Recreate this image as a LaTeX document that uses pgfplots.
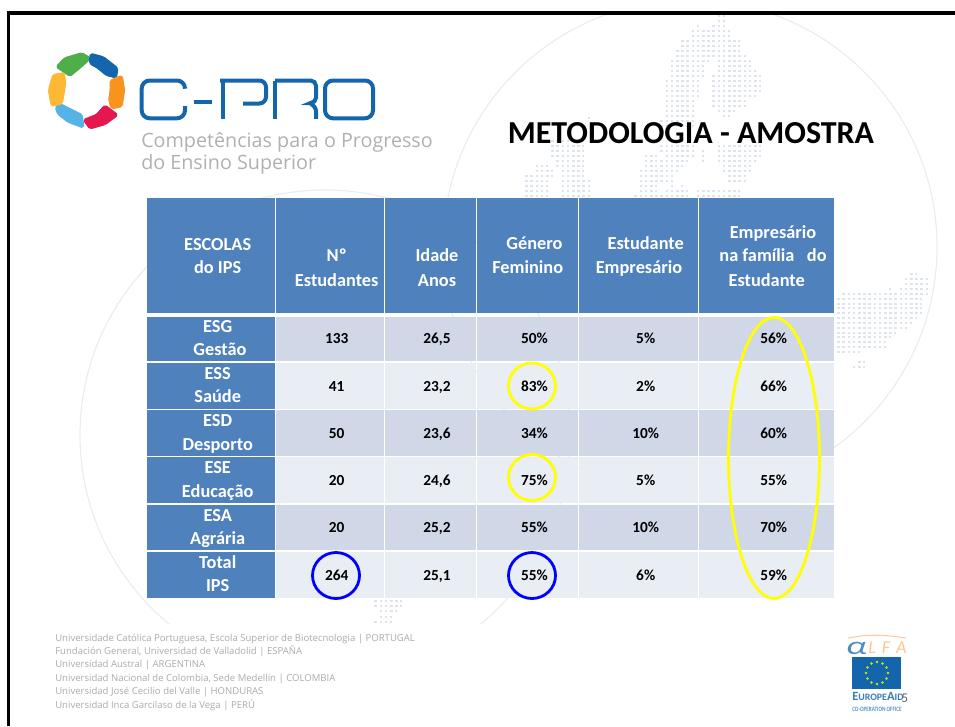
\documentclass[border=0pt]{standalone}
\usepackage{fontspec}
\usepackage{graphicx}
\usepackage{pgfplots}
\usepackage{pgfplotstable}
\pgfplotsset{compat=1.18}
\setmainfont{Carlito}
\newfontfamily\footfont{Open Sans}
\definecolor{hdr}{HTML}{4F81BD}
\definecolor{rowa}{HTML}{D0D8E8}
\definecolor{rowb}{HTML}{E9EDF4}
\definecolor{arc}{HTML}{E8EDF3}
\definecolor{dot}{HTML}{DDE4ED}
\definecolor{cpro}{HTML}{1466AC}
\definecolor{greytxt}{HTML}{B0B0B0}
\definecolor{foot}{HTML}{ABABAB}
\definecolor{ring}{HTML}{FFFF00}
\definecolor{lgreen}{HTML}{4DAE4A}
\definecolor{lorange}{HTML}{F7941D}
\definecolor{lred}{HTML}{E5174F}
\definecolor{lsky}{HTML}{55B3E6}
\definecolor{lyellow}{HTML}{FDB933}
\newcommand{\cell}[5]{\addplot[fill=#5,draw=none] coordinates {(#1,#3)(#2,#3)(#2,#4)(#1,#4)} -- cycle;}
\newcommand{\blob}[2]{\addplot[fill=#1,draw=#1,line width=1.7pt,line join=round,rounded corners=1.2pt] coordinates {#2} -- cycle;}

% row x positions of the table
\pgfplotstableread{
x y lab
336.7 338 133
336.7 386 41
336.7 433 50
336.7 480 20
336.7 527 20
336.7 575 264
437 338 26,5
437 386 23,2
437 433 23,6
437 480 24,6
437 527 25,2
437 575 25,1
}\tblplain
\pgfplotstableread{
x y lab
534.5 338 50
534.5 386 83
534.5 433 34
534.5 480 75
534.5 527 55
534.5 575 55
645.7 338 5
645.7 386 2
645.7 433 10
645.7 480 5
645.7 527 10
645.7 575 6
773.7 338 56
773.7 386 66
773.7 433 60
773.7 480 55
773.7 527 70
773.7 575 59
}\tblpct

\begin{document}
\begin{tikzpicture}
\begin{axis}[
  scale only axis, width=716.25pt, height=544.5pt,
  xmin=0, xmax=955, ymin=0, ymax=726, y dir=reverse,
  hide axis, clip=true,
]
% background arcs
\draw[arc,line width=0.9pt] (axis cs:690,247) ellipse [x radius=247, y radius=247];
\draw[arc,line width=0.9pt] (axis cs:325,435) ellipse [x radius=245, y radius=245];

% background dot map, runs along rows, k = column on the 5.2px grid
\addplot[dot,line width=1.9pt,dash pattern=on 1.9pt off 2pt,empty line=jump]
  table[x expr=\thisrow{k}*5.2,y=y] {
k y
138 16
139.4 16

138 21
139.4 21

134 26
134.4 26

137 26
139.4 26

133 31
140.4 31

133 36
140.4 36

131 41
142.4 41

131 46
142.4 46

130 51
142.4 51

130 56
143.4 56

129 61
136.4 61

138 61
144.4 61

129 66
135.4 66

138 66
144.4 66

129 71
135.4 71

138 71
145.4 71

129 76
135.4 76

137 76
146.4 76

128 81
134.4 81

137 81
146.4 81

128 86
134.4 86

137 86
146.4 86

128 91
134.4 91

137 91
146.4 91

128 96
134.4 96

137 96
145.4 96

128 101
133.4 101

137 101
143.4 101

128 106
133.4 106

137 106
143.4 106

128 111
133.4 111

138 111
141.4 111

128 116
133.4 116

139 116
140.4 116

113 118
113.4 118

127 121
133.4 121

127 126
133.4 126

106 141
112.4 141

106 146
112.4 146

127 146
133.4 146

138 146
146.4 146

106 151
112.4 151

127 151
133.4 151

135 151
135.4 151

138 151
146.4 151

106 156
112.4 156

124 156
126.4 156

128 156
133.4 156

135 156
135.4 156

138 156
146.4 156

107 161
112.4 161

124 161
126.4 161

127 161
132.4 161

135 161
135.4 161

138 161
145.4 161

103 166
105.4 166

107 166
112.4 166

124 166
126.4 166

127 166
131.4 166

139 166
144.4 166

103 171
106.4 171

108 171
112.4 171

123 171
130.4 171

139 171
144.4 171

101 176
106.4 176

108 176
112.4 176

123 176
129.4 176

140 176
143.4 176

101 181
105.4 181

108 181
113.4 181

123 181
129.4 181

140 181
143.4 181

101 186
105.4 186

108 186
113.4 186

123 186
126.4 186

129 186
129.4 186

131 186
131.4 186

101 191
105.4 191

108 191
113.4 191

123 191
126.4 191

128 191
132.4 191

134 191
142.4 191

101 196
105.4 196

108 196
113.4 196

122 196
132.4 196

134 196
142.4 196

175 274
176.4 274

174 279
178.4 279

174 284
178.4 284

171 289
171.4 289

173 289
178.4 289

162 294
178.4 294

161 299
177.4 299

161 304
177.4 304

161 308
177.4 308

161 313
177.4 313

161 318
176.4 318

161 323
175.4 323

161 328
174.4 328

161 333
172.4 333

161 337
171.4 337

161 342
170.4 342

161 347
170.4 347

161 352
165.4 352

165 362
166.4 362

164 367
166.4 367

72 601
77.4 601

72 606
77.4 606

73 611
76.4 611

73 617
75.4 617

72 622
75.4 622
};

% slide mask outside the frame and under the footer
\cell{0}{955}{0}{12}{white}
\cell{0}{7}{0}{726}{white}
\cell{0}{955}{624}{726}{white}

% frame
\addplot[black,line width=2.4pt,line join=miter] coordinates {(8.5,726)(8.5,13)(955,13)};

% logo ring
\blob{lgreen}{(56.7,66.7)(65,58.3)(81.7,53.3)(90,58.3)(81.7,66)(70,75.7)}
\blob{cpro}{(90.7,54)(103.3,57.3)(117.3,68.3)(116,77.3)(106.7,75)(97.3,67.3)(90,63.3)}
\blob{lorange}{(110.7,80.7)(121.7,76)(124,90)(121.7,106)(111.7,108.3)(109.3,100)(110.7,90)}
\blob{lred}{(105,105.7)(117.3,115)(105,124)(90,128.3)(84,120)(96.7,115)}
\blob{lsky}{(58.3,103.3)(68.3,108.3)(81.7,115)(83.3,127.3)(68.3,121.7)(58.3,114)(56,108.3)}
\blob{lyellow}{(53.3,75)(64,73.3)(65,83.3)(63.3,95)(61.7,103.3)(51.7,105.7)(49,90)}

% C-PRO lettering
\addplot[cpro,line width=3pt,rounded corners=6pt] coordinates {(185,87)(185,80.5)(141.7,80.5)(141.7,118.3)(185,118.3)(185,106)};
\addplot[cpro,line width=3pt] coordinates {(193.5,102)(212,102)};
\addplot[cpro,line width=3pt] coordinates {(222.5,80.5)(222.5,118.8)};
\addplot[cpro,line width=3pt,rounded corners=5pt] coordinates {(220,80.5)(266,80.5)(266,103.5)(243,103.5)};
\addplot[cpro,line width=3pt] coordinates {(275,80.5)(275,118.8)};
\addplot[cpro,line width=3pt,rounded corners=4pt] coordinates {(275,80.5)(316,80.5)(316,103)(308,103)(316,106)(316,118.8)};
\addplot[cpro,line width=3pt,rounded corners=6pt] coordinates {(325,80.5)(373,80.5)(373,118.3)(325,118.3)} -- cycle;

\node[anchor=base west,inner sep=0pt,greytxt,font=\footfont\fontsize{14.8}{18}\selectfont] at (axis cs:141,147) {Competências para o Progresso};
\node[anchor=base west,inner sep=0pt,greytxt,font=\footfont\fontsize{14.8}{18}\selectfont] at (axis cs:141,169) {do Ensino Superior};

% title
\node[inner sep=0pt,font=\bfseries\fontsize{24}{28}\selectfont] at (axis cs:691,133) {METODOLOGIA - AMOSTRA};

% table cells, header then rows
\cell{147.3}{274.5}{198}{312.5}{hdr}
\cell{275.7}{383.7}{198}{312.5}{hdr}
\cell{384.9}{476}{198}{312.5}{hdr}
\cell{477.2}{577.5}{198}{312.5}{hdr}
\cell{578.7}{698}{198}{312.5}{hdr}
\cell{699.2}{834}{198}{312.5}{hdr}

\cell{147.3}{274.5}{316.7}{361.2}{hdr}
\cell{147.3}{274.5}{362.7}{408.7}{hdr}
\cell{147.3}{274.5}{410}{455.7}{hdr}
\cell{147.3}{274.5}{457}{503}{hdr}
\cell{147.3}{274.5}{504.5}{550}{hdr}
\cell{147.3}{274.5}{551.5}{597.5}{hdr}

\cell{275.7}{383.7}{316.7}{361.2}{rowa}
\cell{384.9}{476}{316.7}{361.2}{rowa}
\cell{477.2}{577.5}{316.7}{361.2}{rowa}
\cell{578.7}{698}{316.7}{361.2}{rowa}
\cell{699.2}{834}{316.7}{361.2}{rowa}

\cell{275.7}{383.7}{362.7}{408.7}{rowb}
\cell{384.9}{476}{362.7}{408.7}{rowb}
\cell{477.2}{577.5}{362.7}{408.7}{rowb}
\cell{578.7}{698}{362.7}{408.7}{rowb}
\cell{699.2}{834}{362.7}{408.7}{rowb}

\cell{275.7}{383.7}{410}{455.7}{rowa}
\cell{384.9}{476}{410}{455.7}{rowa}
\cell{477.2}{577.5}{410}{455.7}{rowa}
\cell{578.7}{698}{410}{455.7}{rowa}
\cell{699.2}{834}{410}{455.7}{rowa}

\cell{275.7}{383.7}{457}{503}{rowb}
\cell{384.9}{476}{457}{503}{rowb}
\cell{477.2}{577.5}{457}{503}{rowb}
\cell{578.7}{698}{457}{503}{rowb}
\cell{699.2}{834}{457}{503}{rowb}

\cell{275.7}{383.7}{504.5}{550}{rowa}
\cell{384.9}{476}{504.5}{550}{rowa}
\cell{477.2}{577.5}{504.5}{550}{rowa}
\cell{578.7}{698}{504.5}{550}{rowa}
\cell{699.2}{834}{504.5}{550}{rowa}

\cell{275.7}{383.7}{551.5}{597.5}{rowb}
\cell{384.9}{476}{551.5}{597.5}{rowb}
\cell{477.2}{577.5}{551.5}{597.5}{rowb}
\cell{578.7}{698}{551.5}{597.5}{rowb}
\cell{699.2}{834}{551.5}{597.5}{rowb}

% white header and school names
\addplot[only marks,mark=none,point meta=explicit symbolic,
  nodes near coords,
  every node near coord/.append style={anchor=base,inner sep=0pt,yshift=-4.4pt,white,font=\bfseries\fontsize{13.75}{16}\selectfont}]
  table[x=x,y=y,meta=lab] {
x y lab
217.7 244.5 ESCOLAS
217.7 268 {do IPS}
336.7 256 Nº
336.7 280.5 Estudantes
437 256 Idade
437 280.5 Anos
534.5 244 Género
527.7 268 Feminino
645.7 244 Estudante
639 268 Empresário
773 233 Empresário
773 256 {na família~~ do}
766.7 280.5 Estudante
217.7 327 ESG
220 350 Gestão
217.7 374 ESS
217.7 397 Saúde
217.7 421 ESD
217.7 445 Desporto
217.7 468 ESE
217.7 492 Educação
217.7 516 ESA
217.7 539 Agrária
217.7 563 Total
217.7 586 IPS
};

% values
\addplot[only marks,mark=none,point meta=explicit symbolic,nodes near coords,
  every node near coord/.append style={anchor=base,inner sep=0pt,yshift=-3.8pt,black,font=\bfseries\fontsize{11.5}{13}\selectfont}]
  table[x=x,y=y,meta=lab] {\tblplain};
\addplot[only marks,mark=none,point meta=explicit symbolic,nodes near coords={\pgfplotspointmeta\%},
  every node near coord/.append style={anchor=base,inner sep=0pt,yshift=-3.8pt,black,font=\bfseries\fontsize{11.5}{13}\selectfont}]
  table[x=x,y=y,meta=lab] {\tblpct};

% highlight rings
\draw[ring,line width=2.1pt] (axis cs:774,458) ellipse [x radius=45.5, y radius=140.5];
\draw[ring,line width=2.1pt] (axis cs:532,386) ellipse [x radius=23.5, y radius=23];
\draw[ring,line width=2.1pt] (axis cs:532,477.5) ellipse [x radius=23.5, y radius=23];
\draw[blue,line width=2.1pt] (axis cs:532,575.5) ellipse [x radius=23.5, y radius=23];
\draw[blue,line width=2.1pt] (axis cs:336,575.5) ellipse [x radius=23.5, y radius=23];

% footer
\node[anchor=base west,inner sep=0pt,foot,font=\footfont\fontsize{7.17}{8}\selectfont] at (axis cs:55,641) {Universidade Católica Portuguesa, Escola Superior de Biotecnologia | PORTUGAL};
\node[anchor=base west,inner sep=0pt,foot,font=\footfont\fontsize{7.17}{8}\selectfont] at (axis cs:55,654.5) {Fundación General, Universidad de Valladolid | ESPAÑA};
\node[anchor=base west,inner sep=0pt,foot,font=\footfont\fontsize{7.17}{8}\selectfont] at (axis cs:55,667.5) {Universidad Austral | ARGENTINA};
\node[anchor=base west,inner sep=0pt,foot,font=\footfont\fontsize{7.17}{8}\selectfont] at (axis cs:55,681) {Universidad Nacional de Colombia, Sede Medellín | COLOMBIA};
\node[anchor=base west,inner sep=0pt,foot,font=\footfont\fontsize{7.17}{8}\selectfont] at (axis cs:55,694) {Universidad José Cecilio del Valle | HONDURAS};
\node[anchor=base west,inner sep=0pt,foot,font=\footfont\fontsize{7.17}{8}\selectfont] at (axis cs:55,708) {Universidad Inca Garcilaso de la Vega | PERÚ};

% ALFA and EuropeAid marks
\addplot[orange!40,line width=0.8pt,smooth] coordinates {(848,638)(865,635.5)(885,635.5)(906,638)};
\node[inner sep=0pt,anchor=base,font=\itshape\fontsize{19}{22}\selectfont,cpro!75] at (axis cs:856.5,654) {\scalebox{1.45}[1]{α}};
\node[inner sep=0pt,anchor=base west,font=\itshape\fontsize{13.5}{14}\selectfont,orange!45] at (axis cs:868,653) {L\,\,F\,\,A};
\cell{852.3}{901.3}{656.7}{689.3}{cpro}
\addplot[only marks,mark=*,mark size=0.7pt,color=yellow!80!green] coordinates {(877,662)(882.5,663.5)(886.5,667.5)(888,673)(886.5,678.5)(882.5,682.5)(877,684)(871.5,682.5)(867.5,678.5)(866,673)(867.5,667.5)(871.5,663.5)};
\node[inner sep=0pt,anchor=base west,font=\bfseries\fontsize{7.4}{10}\selectfont,cpro!85] at (axis cs:852,700) {{\fontsize{9.4}{10}\selectfont E}UROPE{\fontsize{9.4}{10}\selectfont A}ID};
\node[inner sep=0pt,anchor=base west,font=\fontsize{10}{12}\selectfont,black!60] at (axis cs:901,702) {5};
\node[inner sep=0pt,anchor=base west,font=\bfseries\fontsize{5}{6}\selectfont,cpro!70] at (axis cs:852,711.5) {\scalebox{0.78}[1]{CO-OPERATION OFFICE}};
\end{axis}
\end{tikzpicture}
\end{document}
